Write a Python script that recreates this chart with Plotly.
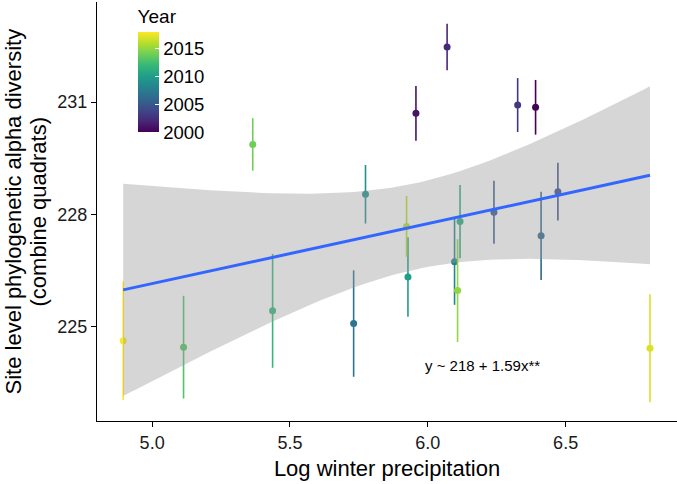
import numpy as np
import plotly.graph_objects as go
from plotly.colors import sample_colorscale

# one point per year: log winter precipitation vs site-level alpha diversity
years = [2000, 2001, 2002, 2003, 2004, 2005, 2006, 2007, 2008, 2009,
         2010, 2011, 2012, 2013, 2014, 2015, 2016, 2017, 2018]
log_precip = [6.391, 5.957, 6.070, 6.326, 6.472, 6.240, 6.411, 5.731, 6.097, 5.774,
              5.928, 6.117, 5.437, 5.114, 5.365, 6.108, 5.923, 6.806, 4.895]
alpha_div = [230.86, 230.70, 232.47, 230.92, 228.61, 228.06, 227.43, 225.09, 226.74, 228.54,
             226.33, 227.81, 225.43, 224.46, 229.87, 225.97, 227.68, 224.43, 224.63]
alpha_err = [0.73, 0.73, 0.62, 0.72, 0.77, 0.84, 1.18, 1.42, 1.15, 0.78,
             1.06, 0.98, 1.52, 1.37, 0.70, 1.37, 0.81, 1.44, 1.58]

x_ticks = [5.0, 5.5, 6.0, 6.5]
y_ticks = [225, 228, 231]
year_ticks = [2000, 2005, 2010, 2015]
fit_label = "y ~ 218 + 1.59x**"
y_title_lines = ["Site level phylogenetic alpha diversity", "(combine quadrats)"]

FONT = "Arial, Liberation Sans, sans-serif"
X_RANGE = [4.8, 6.904]
Y_RANGE = [222.49, 233.67]
MARGIN_L, PLOT_W = 97, 580

x = np.array(log_precip)
y = np.array(alpha_div)
n = len(x)

# ordinary least squares + 95% confidence band (like geom_smooth(method = "lm"))
slope, intercept = np.polyfit(x, y, 1)
resid = y - (intercept + slope * x)
s = np.sqrt(np.sum(resid ** 2) / (n - 2))
sxx = np.sum((x - x.mean()) ** 2)
t_crit = 2.1098  # t(0.975, df = 17)
grid = np.linspace(x.min(), x.max(), 80)
fit = intercept + slope * grid
half = t_crit * s * np.sqrt(1 / n + (grid - x.mean()) ** 2 / sxx)

ymin, ymax = min(years), max(years)
fracs = [(yr - ymin) / (ymax - ymin) for yr in years]
colors = sample_colorscale("Viridis", fracs)

fig = go.Figure()

for xi, yi, ei, col in zip(log_precip, alpha_div, alpha_err, colors):
    fig.add_trace(
        go.Scatter(
            x=[xi], y=[yi], mode="markers",
            marker={"size": 7, "color": col},
            error_y={"type": "data", "array": [ei], "color": col, "thickness": 1.6, "width": 0},
            showlegend=False,
        )
    )

# colour bar carrier
fig.add_trace(
    go.Scatter(
        x=[None], y=[None], mode="markers",
        marker={
            "color": [ymin, ymax], "colorscale": "Viridis", "cmin": ymin, "cmax": ymax,
            "showscale": True,
            "colorbar": {
                "title": {"text": "Year", "side": "top", "font": {"size": 19, "family": FONT, "color": "black"}},
                "x": 0.07, "xanchor": "left", "y": 0.99, "yanchor": "top",
                "len": 126, "lenmode": "pixels", "thickness": 21,
                "xpad": 0, "ypad": 0, "outlinewidth": 0,
                "tickvals": year_ticks, "ticks": "inside", "ticklen": 4, "tickcolor": "white",
                "tickfont": {"size": 18.5, "family": FONT, "color": "black"},
            },
        },
        showlegend=False, hoverinfo="skip",
    )
)

# smoother drawn on an overlaid subplot so the ribbon sits on top of the points
fig.add_trace(
    go.Scatter(
        x=np.concatenate([grid, grid[::-1]]),
        y=np.concatenate([fit + half, (fit - half)[::-1]]),
        fill="toself", fillcolor="rgba(153,153,153,0.4)",
        line={"width": 0}, mode="lines", showlegend=False, hoverinfo="skip",
        xaxis="x2", yaxis="y2",
    )
)
fig.add_trace(
    go.Scatter(
        x=grid, y=fit, mode="lines",
        line={"color": "#3366FF", "width": 3}, showlegend=False, hoverinfo="skip",
        xaxis="x2", yaxis="y2",
    )
)

fig.add_annotation(
    x=6.20, y=223.96, text=fit_label, showarrow=False,
    font={"size": 15, "family": FONT, "color": "black"},
)

# two-line y title as rotated annotations (ggplot spaces the lines tighter than plotly)
for line_text, px in zip(y_title_lines, [13, 38]):
    fig.add_annotation(
        xref="paper", yref="paper", x=(px - MARGIN_L) / PLOT_W, y=0.5,
        xanchor="center", yanchor="middle", textangle=-90,
        text=line_text, showarrow=False,
        font={"size": 22, "family": FONT, "color": "black"},
    )

axis_common = {
    "showgrid": False, "zeroline": False, "showline": True, "linecolor": "black",
    "linewidth": 1.1, "ticks": "outside", "ticklen": 5, "tickcolor": "black",
    "tickfont": {"size": 18, "family": FONT, "color": "#1a1a1a"},
    "automargin": False,
}
fig.update_layout(
    xaxis={
        "range": X_RANGE, "tickvals": x_ticks, "tickformat": ".1f",
        "title": {"text": "Log winter precipitation", "font": {"size": 22, "family": FONT, "color": "black"}, "standoff": 8},
        **axis_common,
    },
    yaxis={"range": Y_RANGE, "tickvals": y_ticks, **axis_common},
    xaxis2={"range": X_RANGE, "overlaying": "x", "visible": False},
    yaxis2={"range": Y_RANGE, "overlaying": "y", "visible": False},
    width=677, height=484,
    plot_bgcolor="white", paper_bgcolor="white",
    margin={"l": MARGIN_L, "r": 0, "t": 2, "b": 63},
    font={"family": FONT},
)

# drop the browser's default 8px body margin so the figure fills the window
fig.write_html(
    "out.html",
    config={"displayModeBar": False},
    post_script="document.body.style.margin = '0';",
)
